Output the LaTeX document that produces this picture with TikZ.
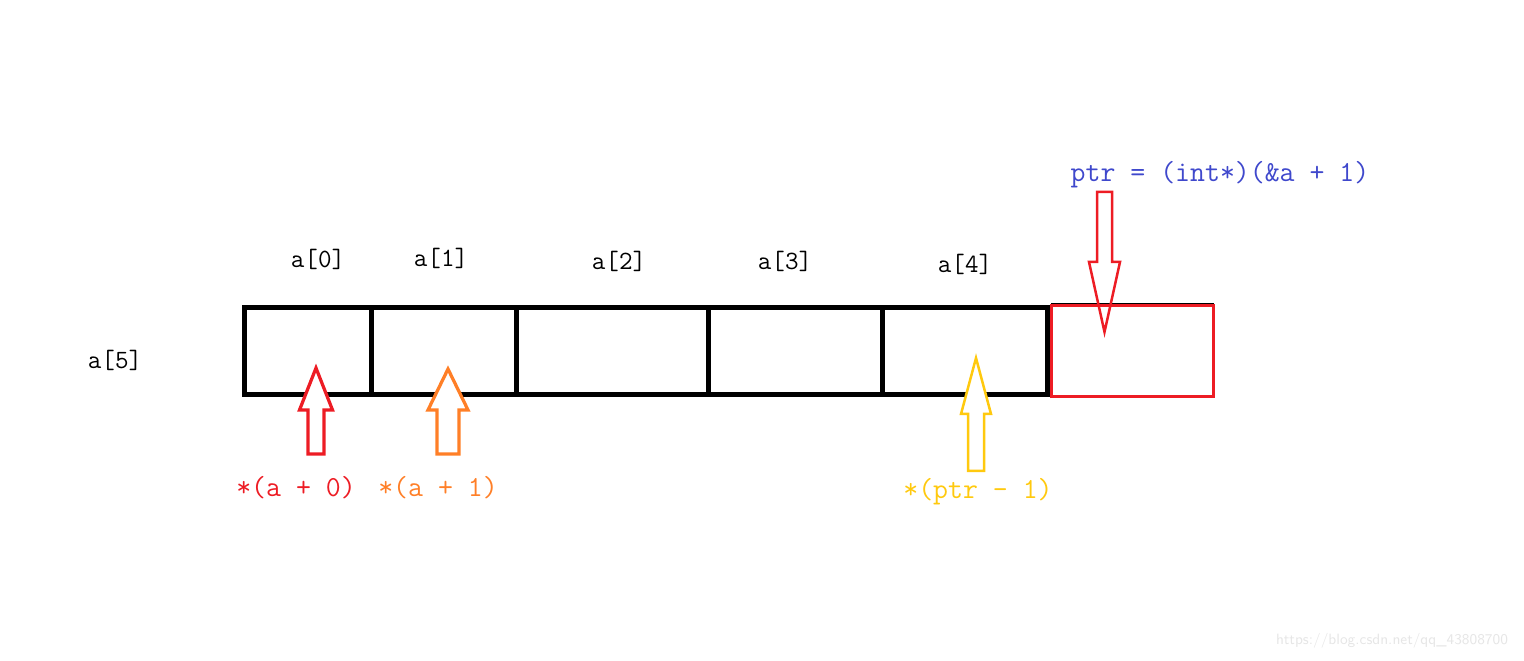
\documentclass[tikz,border=0pt]{standalone}
\usepackage{tikz}
\usetikzlibrary{positioning}
\usepackage{xcolor}

\definecolor{pred}{HTML}{ED1C24}
\definecolor{porange}{HTML}{FF7F27}
\definecolor{pyellow}{HTML}{FFC90E}
\definecolor{pblue}{HTML}{3F48CC}
\definecolor{pmark}{HTML}{E6E6E6}

\begin{document}
\begin{tikzpicture}[
x=0.02cm, y=-0.02cm,
cell/.style={draw,
rectangle,
line width=0.1cm,
minimum height=1.74cm,
outer sep=0pt,
inner sep=0pt},
extracell/.style={draw=pred,
rectangle,
line width=0.06cm,
minimum width=3.26cm,
minimum height=1.84cm,
outer sep=0pt,
inner sep=0pt},
idx/.style={font=\fontsize{15}{18}\selectfont\ttfamily},
expr/.style={font=\fontsize{16.5}{20}\selectfont\ttfamily},
hollow/.style={line width=0.065cm, line join=miter, fill=white}
]

\useasboundingbox (0,0) rectangle (1524,661);

% the array cells
\node[cell, minimum width=2.56cm, anchor=north west] (cell0) at (244,308) {};
\node[cell, minimum width=2.90cm, right=0pt of cell0] (cell1) {};
\node[cell, minimum width=3.84cm, right=0pt of cell1] (cell2) {};
\node[cell, minimum width=3.48cm, right=0pt of cell2] (cell3) {};
\node[cell, minimum width=3.30cm, right=0pt of cell3] (cell4) {};
\node[extracell, anchor=west] (cell5) at (1051,351) {};
\draw[line width=0.02cm] (cell5.north west) ++(0,-1.5) -- ++(163,0);

% labels
\node[idx] (lab0) at (318,259) {a[0]};
\node[idx] (lab1) at (441,258) {a[1]};
\node[idx] (lab2) at (619,261) {a[2]};
\node[idx] (lab3) at (785,261) {a[3]};
\node[idx] (lab4) at (965,264) {a[4]};
\node[idx] (labarr) at (115,360) {a[5]};

\node[expr, text=pred] (deref0) at (296,488) {*(a + 0)};
\node[expr, text=porange] (deref1) at (438,488) {*(a + 1)};
\node[expr, text=pyellow] (derefptr) at (978,492) {*(ptr - 1)};
\node[expr, text=pblue] (ptrdef) at (1220,175) {ptr = (int*)(\&a + 1)};

% block arrows
\draw[hollow, draw=pred] (316,368) -- (332.5,410) -- (324,410) -- (324,454)
  -- (308,454) -- (308,410) -- (299.5,410) -- cycle;
\draw[hollow, draw=porange] (448,369) -- (468,410) -- (459,410) -- (459,454)
  -- (437,454) -- (437,410) -- (428,410) -- cycle;
\draw[hollow, draw=pyellow, line width=0.05cm] (976,358) -- (991,414) -- (984,414) -- (984,471)
  -- (968,471) -- (968,414) -- (961,414) -- cycle;
\draw[draw=pred, line width=0.05cm, line join=miter] (1104.5,332) -- (1120,262) -- (1112,262) -- (1112,192)
  -- (1097,192) -- (1097,262) -- (1089,262) -- cycle;

\node[font=\fontsize{8.5}{10}\selectfont\sffamily, text=pmark] (mark) at (1392,641) {https://blog.csdn.net/qq\_43808700};

\end{tikzpicture}
\end{document}
